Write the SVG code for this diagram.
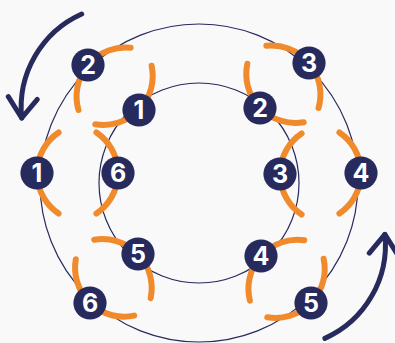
<svg xmlns="http://www.w3.org/2000/svg" xmlns:xlink="http://www.w3.org/1999/xlink" width="395" height="343" viewBox="0 0 395 343">
<style>
.ring{fill:none;stroke:#272a5c;stroke-width:1.2}
.c{fill:none;stroke:#f08a2b;stroke-width:6;stroke-linecap:round}
.n circle{fill:#272a5c}
.n text{fill:#ffffff;font-family:Inter,"Open Sans","DejaVu Sans",sans-serif;font-weight:700;font-size:25px;text-anchor:middle}
.arrow{fill:none;stroke:#272a5c;stroke-width:5;stroke-linecap:round;stroke-linejoin:round}
</style>
<defs>
<path id="c" d="M21.6,-40.6 A49,49 0 0 0 21.6,40.6"/>
<g id="arr">
<path d="M81.7,14 A102.6,102.6 0 0 0 21.7,118"/>
<path d="M8.3,96.7 L21.7,118 L37.3,99.3"/>
</g>
</defs>
<rect width="395" height="343" fill="#f9f9fa"/>
<g id="connectors">
<circle class="ring" cx="199" cy="183" r="159"/>
<circle class="ring" cx="199" cy="183" r="100"/>
<g class="c">
<use xlink:href="#c" transform="translate(37,173) rotate(0)"/>
<use xlink:href="#c" transform="translate(118,173) rotate(180)"/>
<use xlink:href="#c" transform="translate(88,65) rotate(40)"/>
<use xlink:href="#c" transform="translate(139,110) rotate(224)"/>
<use xlink:href="#c" transform="translate(309,63) rotate(140)"/>
<use xlink:href="#c" transform="translate(260,108) rotate(316)"/>
<use xlink:href="#c" transform="translate(361,173) rotate(180)"/>
<use xlink:href="#c" transform="translate(280,174) rotate(0)"/>
<use xlink:href="#c" transform="translate(311,303) rotate(224)"/>
<use xlink:href="#c" transform="translate(261,256) rotate(42)"/>
<use xlink:href="#c" transform="translate(90,303) rotate(314)"/>
<use xlink:href="#c" transform="translate(138,254) rotate(136)"/>
</g>
<g class="arrow">
<use xlink:href="#arr"/>
<use xlink:href="#arr" transform="rotate(180 203.3 176.2)"/>
</g>
</g>
<g id="outer-1" class="n"><circle cx="37" cy="173" r="16.6"/><text x="37" y="182">1</text></g>
<g id="outer-2" class="n"><circle cx="88" cy="65" r="16.6"/><text x="88" y="74">2</text></g>
<g id="outer-3" class="n"><circle cx="309" cy="63" r="16.6"/><text x="309" y="72">3</text></g>
<g id="outer-4" class="n"><circle cx="361" cy="173" r="16.6"/><text x="361" y="182">4</text></g>
<g id="outer-5" class="n"><circle cx="311" cy="303" r="16.6"/><text x="311" y="312">5</text></g>
<g id="outer-6" class="n"><circle cx="90" cy="303" r="16.6"/><text x="90" y="312">6</text></g>
<g id="inner-1" class="n"><circle cx="139" cy="110" r="16.6"/><text x="139" y="119">1</text></g>
<g id="inner-2" class="n"><circle cx="260" cy="108" r="16.6"/><text x="260" y="117">2</text></g>
<g id="inner-3" class="n"><circle cx="280" cy="174" r="16.6"/><text x="280" y="183">3</text></g>
<g id="inner-4" class="n"><circle cx="261" cy="256" r="16.6"/><text x="261" y="265">4</text></g>
<g id="inner-5" class="n"><circle cx="138" cy="254" r="16.6"/><text x="138" y="263">5</text></g>
<g id="inner-6" class="n"><circle cx="118" cy="173" r="16.6"/><text x="118" y="182">6</text></g>
</svg>
